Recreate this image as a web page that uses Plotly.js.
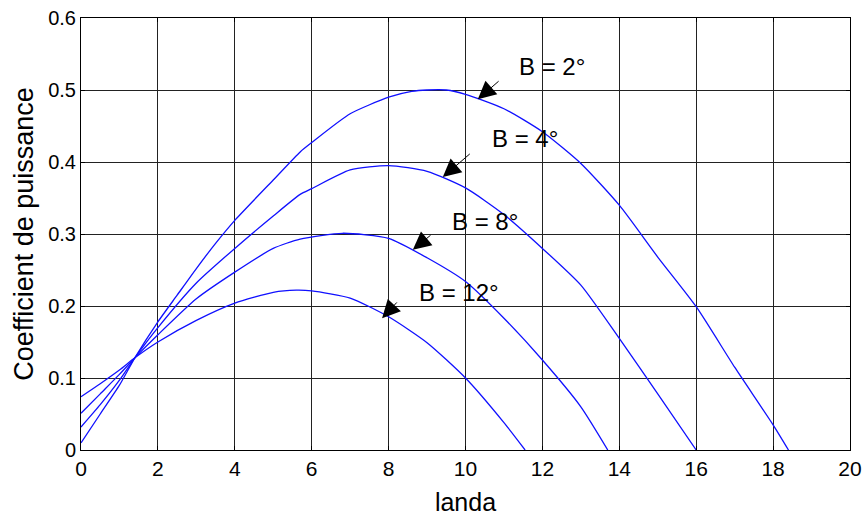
<!DOCTYPE html>
<html>
<head>
<meta charset="utf-8">
<script src="https://cdn.plot.ly/plotly-3.0.1.min.js"></script>
<style>html,body{margin:0;padding:0;background:#fff;}#chart{width:863px;height:518px;}</style>
</head>
<body>
<div id="chart"></div>
<script>
// Data
const seriesNames = ["B = 2°", "B = 4°", "B = 8°", "B = 12°"];

const xB2 = [0, 0.5, 1, 1.4, 2, 2.5, 3, 3.5, 4, 5, 5.7, 6, 7, 8, 8.6, 9, 9.5, 10, 11, 12, 13, 14, 15, 16, 17, 18, 18.4];
const yB2 = [0.01, 0.05, 0.09, 0.128, 0.178, 0.215, 0.252, 0.287, 0.319, 0.375, 0.414, 0.427, 0.467, 0.49, 0.498, 0.5, 0.5, 0.494, 0.474, 0.442, 0.398, 0.34, 0.268, 0.199, 0.115, 0.035, 0];

const xB4 = [0, 0.5, 1, 1.4, 2, 3, 4, 5, 5.7, 6, 7, 8, 9, 10, 11, 12, 13, 14, 15, 16];
const yB4 = [0.032, 0.063, 0.097, 0.128, 0.17, 0.232, 0.28, 0.325, 0.355, 0.363, 0.389, 0.395, 0.387, 0.364, 0.327, 0.28, 0.229, 0.155, 0.078, 0];

const xB8 = [0, 0.5, 1, 1.4, 2, 3, 4, 5, 5.7, 6.8, 8, 9, 10, 11, 12, 13, 13.7];
const yB8 = [0.051, 0.078, 0.105, 0.128, 0.16, 0.21, 0.247, 0.28, 0.293, 0.301, 0.294, 0.267, 0.234, 0.183, 0.125, 0.06, 0];

const xB12 = [0, 0.5, 1, 1.4, 2, 3, 4, 5, 5.6, 6, 7, 8, 9, 10, 11, 11.55];
const yB12 = [0.074, 0.092, 0.111, 0.128, 0.15, 0.18, 0.204, 0.219, 0.222, 0.221, 0.211, 0.185, 0.149, 0.1, 0.038, 0];

const xTicks = [0, 2, 4, 6, 8, 10, 12, 14, 16, 18, 20];
const yTicks = [0, 0.1, 0.2, 0.3, 0.4, 0.5, 0.6];
const yTickText = ["0", "0.1", "0.2", "0.3", "0.4", "0.5", "0.6"];

const xs = [xB2, xB4, xB8, xB12];
const ys = [yB2, yB4, yB8, yB12];

const traces = xs.map((x, i) => ({
  x: x, y: ys[i], name: seriesNames[i], type: "scatter", mode: "lines",
  line: {color: "#1010ff", width: 1.3, shape: "spline", smoothing: 0.6},
  hoverinfo: "skip"
}));

const font = "Arial, 'Liberation Sans', sans-serif";

// label placement (text) and arrow tips/tails
const labelPos = [[12.25, 0.533], [11.55, 0.433], [10.5, 0.318], [9.83, 0.219]];
const arrowTip = [[10.32, 0.487], [9.41, 0.379], [8.63, 0.278], [7.83, 0.183]];
const arrowTail = [[10.9, 0.514], [10.15, 0.413], [9.13, 0.3], [8.25, 0.207]];

const annotations = [];
seriesNames.forEach((t, i) => {
  annotations.push({x: labelPos[i][0], y: labelPos[i][1], xref: "x", yref: "y", text: t,
    showarrow: false, xanchor: "center", yanchor: "middle",
    font: {family: font, size: 24, color: "#000"}});
  annotations.push({x: arrowTip[i][0], y: arrowTip[i][1], ax: arrowTail[i][0], ay: arrowTail[i][1],
    axref: "x", ayref: "y", xref: "x", yref: "y", text: "", showarrow: true,
    arrowhead: 2, arrowsize: 3.6, arrowwidth: 1, arrowcolor: "#000"});
});

const axisCommon = {
  showgrid: true, gridcolor: "#222", gridwidth: 1,
  showline: true, linecolor: "#000", linewidth: 1, mirror: "ticks",
  ticks: "inside", ticklen: 4, tickcolor: "#000",
  zeroline: false, tickfont: {family: font, size: 20, color: "#000"}
};

const layout = {
  width: 863, height: 518,
  margin: {l: 81, r: 13, t: 18, b: 68},
  paper_bgcolor: "#fff", plot_bgcolor: "#fff",
  showlegend: false,
  xaxis: Object.assign({}, axisCommon, {
    range: [0, 20], tickvals: xTicks, ticktext: xTicks.map(String),
    tickfont: {family: font, size: 21, color: "#000"},
    title: {text: "landa", font: {family: font, size: 25, color: "#000"}, standoff: 14}
  }),
  yaxis: Object.assign({}, axisCommon, {
    range: [0, 0.6], tickvals: yTicks, ticktext: yTickText,
    title: {text: "Coefficient de puissance", font: {family: font, size: 27, color: "#000"}, standoff: 6}
  }),
  annotations: annotations
};

Plotly.newPlot("chart", traces, layout, {staticPlot: true, displayModeBar: false});
</script>
</body>
</html>
